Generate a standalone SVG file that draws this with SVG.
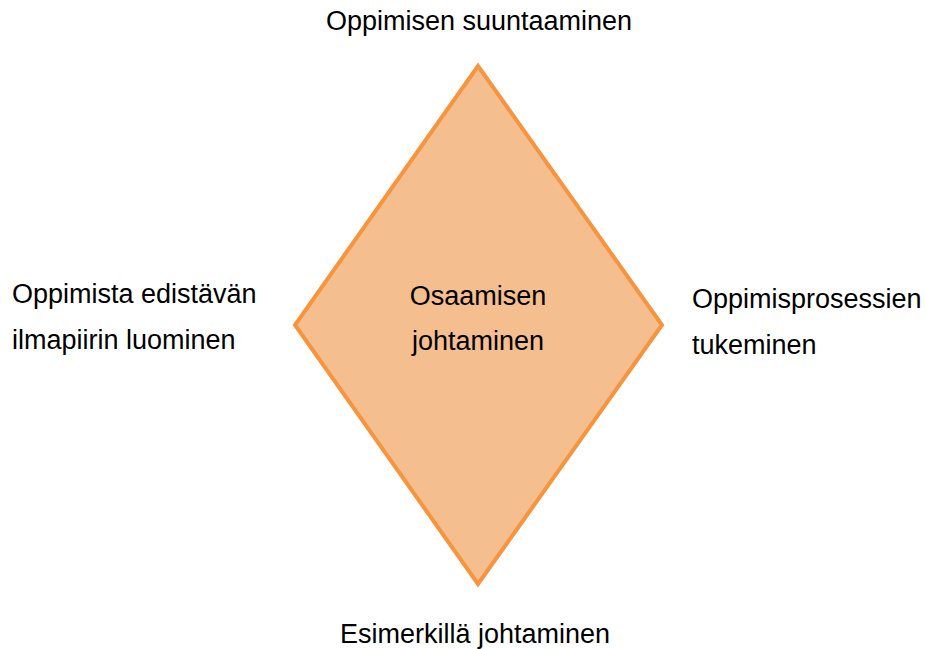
<svg xmlns="http://www.w3.org/2000/svg" width="926" height="649" viewBox="0 0 926 649">
<style>
text{font-family:"Liberation Sans",Arial,sans-serif;font-size:27px;fill:#000}
.c{text-anchor:middle}
</style>
<rect width="926" height="649" fill="#fff"/>
<g id="connectors"></g>
<g id="diamond">
<polygon points="478,66 662,325 478,584 295,325" fill="#F5BE8F" stroke="#F7943E" stroke-width="4" stroke-linejoin="miter"/>
<text class="c" x="478" y="305">Osaamisen</text>
<text class="c" x="478" y="350">johtaminen</text>
</g>
<g id="top"><text class="c" x="479" y="30">Oppimisen suuntaaminen</text></g>
<g id="left"><text x="12" y="303">Oppimista edistävän</text><text x="12" y="349">ilmapiirin luominen</text></g>
<g id="right"><text x="692" y="308">Oppimisprosessien</text><text x="692" y="354">tukeminen</text></g>
<g id="bottom"><text class="c" x="475" y="643">Esimerkillä johtaminen</text></g>
</svg>
